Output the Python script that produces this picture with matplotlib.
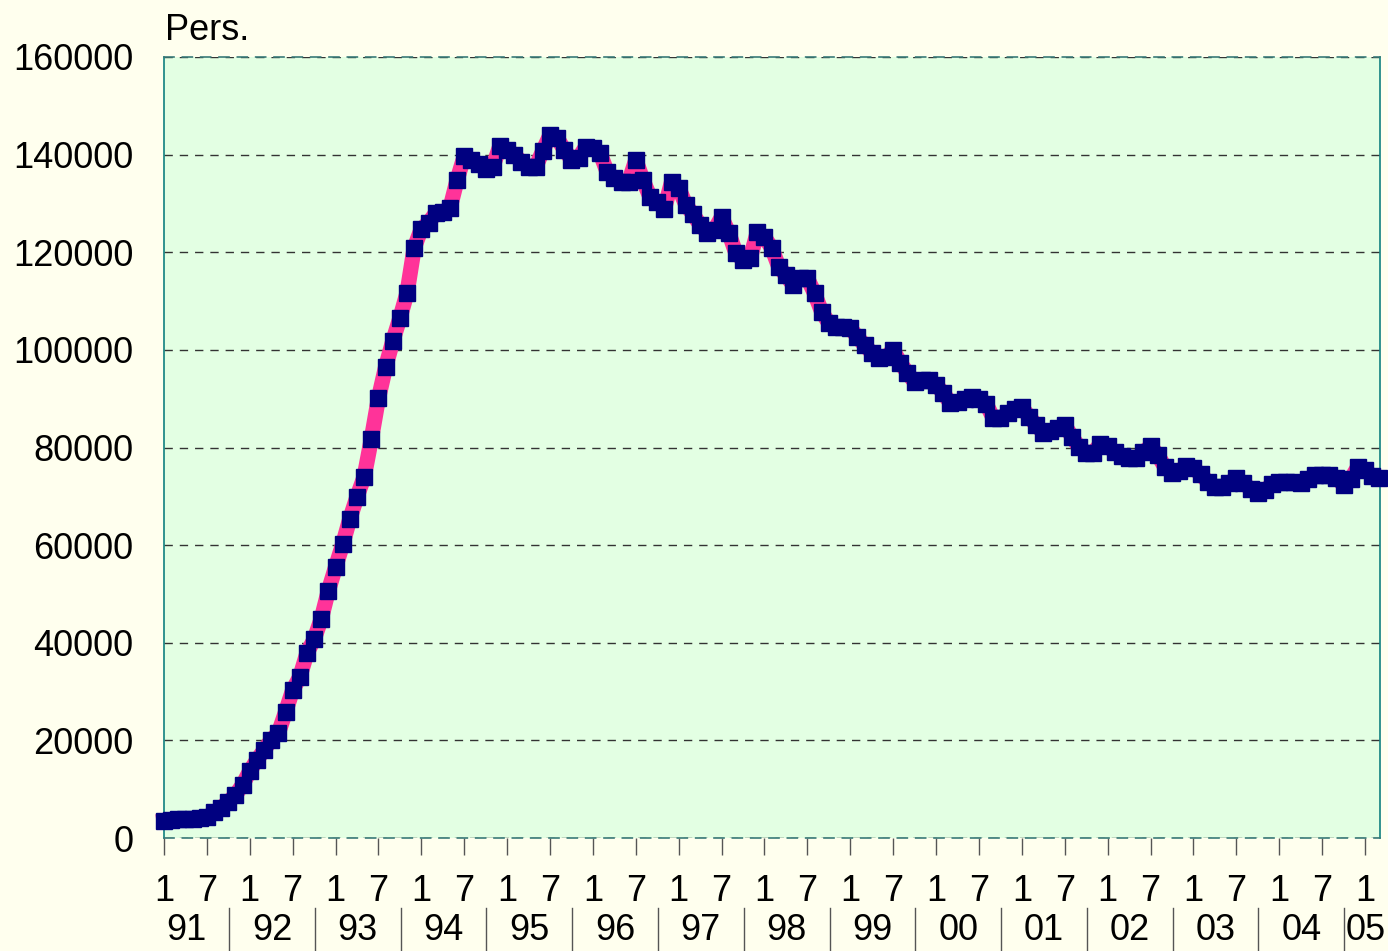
import matplotlib
matplotlib.use("Agg")
import matplotlib.pyplot as plt
import matplotlib.transforms as mtransforms

# monthly values, Jan 1991 .. Mar 2005
persons = [
    3500, 3700, 3800, 3800, 3900, 4000, 4300, 5300, 6200, 7400, 8800, 10900,
    13700, 16000, 18000, 20100, 21500, 25800, 30300, 33000, 37900, 40700, 44900, 50700,
    55500, 60200, 65400, 69900, 74000, 81700, 90100, 96500, 101800, 106500, 111700, 120900,
    124800, 126000, 128000, 128300, 129000, 134800, 139700, 139000, 138000, 137000, 137500, 141800,
    141000, 140000, 138500, 137500, 137500, 140800, 144000, 143400, 141000, 139000, 139300, 141600,
    141400, 140300, 136400, 135200, 134400, 134400, 138900, 134800, 131300, 130300, 128900, 134400,
    133200, 129700, 127800, 125600, 124000, 124600, 127200, 124000, 119800, 118400, 118800, 124100,
    123100, 120900, 117000, 115300, 113300, 114700, 114700, 111600, 107800, 105500, 104700, 104700,
    104500, 102600, 101000, 99400, 98300, 98500, 100000, 97300, 95300, 93400, 93800, 93800,
    92800, 91200, 89100, 89300, 90000, 90300, 90000, 89000, 86000, 86000, 87000, 87800,
    88300, 86300, 84600, 83000, 83300, 84000, 84600, 82200, 80100, 78900, 78900, 80800,
    80300, 79000, 78300, 77800, 77800, 79000, 80300, 78500, 76000, 74800, 75200, 76200,
    75800, 74500, 73000, 71900, 71900, 72700, 73800, 72700, 71500, 70700, 71200, 72500,
    73000, 72900, 72900, 72700, 73500, 74400, 74400, 74300, 73800, 72300, 73500, 76000,
    75400, 74200, 73800,
]
month_labels = ["1", "7"]
years = ["91", "92", "93", "94", "95", "96", "97", "98", "99",
         "00", "01", "02", "03", "04", "05"]
y_ticks = [0, 20000, 40000, 60000, 80000, 100000, 120000, 140000, 160000]

plt.rcParams["font.family"] = ["Liberation Sans", "DejaVu Sans"]

fig = plt.figure(figsize=(13.88, 9.51), dpi=100, facecolor="#FFFFEE")
ax = fig.add_axes([164 / 1388, 113 / 951, 1216 / 1388, 781 / 951])
ax.set_facecolor("#E3FFE3")

x = list(range(len(persons)))
ax.plot(x, persons, color="#FF3399", linewidth=11, solid_joinstyle="round",
        clip_on=False, zorder=3)
ax.plot(x, persons, linestyle="none", marker="s", markersize=12,
        color="#000080", clip_on=False, zorder=4)

ax.set_xlim(0, 170.1)
ax.set_ylim(0, 160000)
ax.set_yticks(y_ticks)
ax.set_yticklabels([str(v) for v in y_ticks])
ax.tick_params(axis="y", length=0, pad=22, labelsize=26)

ticks = list(range(0, len(persons), 6))
ax.set_xticks(ticks)
ax.set_xticklabels([month_labels[i % 2] for i in range(len(ticks))])
ax.tick_params(axis="x", length=12, width=1, color="#555555", pad=14, labelsize=26)

ax.grid(axis="y", color="#333333", linestyle=(0, (6, 5)), linewidth=1)
ax.set_axisbelow(True)

for side in ["left", "right"]:
    ax.spines[side].set_color("#108080")
    ax.spines[side].set_linewidth(1.2)
for side in ["top", "bottom"]:
    ax.spines[side].set_color("#3a7a78")
    ax.spines[side].set_linestyle((0, (6, 5)))
    ax.spines[side].set_linewidth(1.2)

# year row under the month labels
trans = mtransforms.blended_transform_factory(ax.transData, ax.transAxes)
for k, yr in enumerate(years):
    sep = 9.1 + 12 * k
    if k < len(years) - 1:
        ax.text(sep - 6, -0.118, yr, transform=trans, ha="center", va="center",
                fontsize=26)
        ax.plot([sep, sep], [-0.09, -0.146], transform=trans, color="#555555",
                linewidth=1, clip_on=False)
    else:
        ax.text(sep - 11.8, -0.118, yr, transform=trans, ha="left", va="center",
                fontsize=26)

fig.text(165 / 1388, 1 - 40 / 951, "Pers.", ha="left", va="baseline", fontsize=26)

fig.savefig("out.png", dpi=100, facecolor=fig.get_facecolor())
